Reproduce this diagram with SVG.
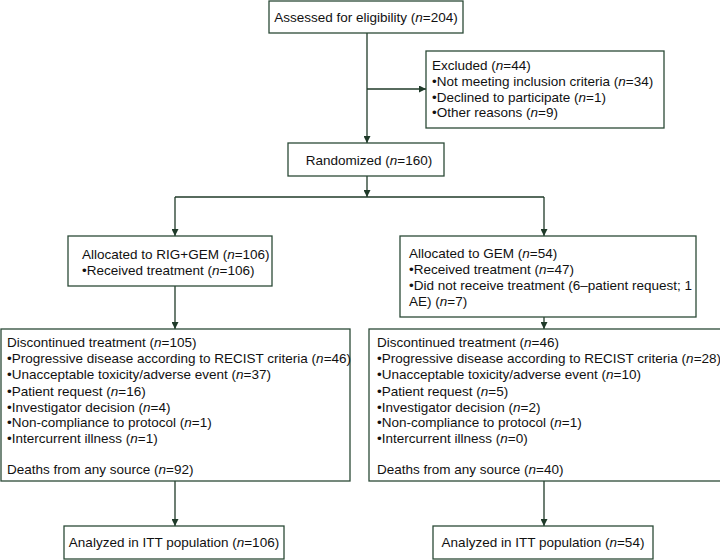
<svg xmlns="http://www.w3.org/2000/svg" width="720" height="560" viewBox="0 0 720 560">
<defs>
<marker id="ah" viewBox="0 0 10 10" refX="10" refY="5" markerWidth="7" markerHeight="7" markerUnits="userSpaceOnUse" orient="auto">
<path d="M0,0 L10,5 L0,10 z" fill="#1f3a29"/>
</marker>
<style>
.box{fill:#fff;stroke:#2b4a37;stroke-width:1.3}
.t{font-family:"Liberation Sans",Arial,sans-serif;font-size:13.5px;fill:#111}
.c{text-anchor:middle}
.ln{fill:none;stroke:#1f3a29;stroke-width:1.3}
.i{font-style:italic}
</style>
</defs>
<rect width="720" height="560" fill="#fff"/>
<g id="connectors">
<path class="ln" d="M367,33 V143" marker-end="url(#ah)"/>
<path class="ln" d="M367,89 H426" marker-end="url(#ah)"/>
<path class="ln" d="M367,176 V197" marker-end="url(#ah)"/>
<path class="ln" d="M175,197 H544"/>
<path class="ln" d="M175,197 V236" marker-end="url(#ah)"/>
<path class="ln" d="M544,197 V236" marker-end="url(#ah)"/>
<path class="ln" d="M175,286 V329" marker-end="url(#ah)"/>
<path class="ln" d="M544,317 V329" marker-end="url(#ah)"/>
<path class="ln" d="M175,481 V526" marker-end="url(#ah)"/>
<path class="ln" d="M544,481 V526" marker-end="url(#ah)"/>
</g>
<g id="assessed">
<rect class="box" x="269" y="1" width="194" height="32"/>
<text class="t c" x="366" y="22">Assessed for eligibility (<tspan class="i">n</tspan>=204)</text>
</g>
<g id="excluded">
<rect class="box" x="426" y="51" width="238" height="77"/>
<text class="t" x="432" y="70">Excluded (<tspan class="i">n</tspan>=44)</text>
<text class="t" x="432" y="86">•Not meeting inclusion criteria (<tspan class="i">n</tspan>=34)</text>
<text class="t" x="432" y="102">•Declined to participate (<tspan class="i">n</tspan>=1)</text>
<text class="t" x="432" y="117">•Other reasons (<tspan class="i">n</tspan>=9)</text>
</g>
<g id="randomized">
<rect class="box" x="288" y="143" width="156" height="33"/>
<text class="t c" x="369" y="165">Randomized (<tspan class="i">n</tspan>=160)</text>
</g>
<g id="alloc-rig">
<rect class="box" x="68" y="236" width="204" height="50"/>
<text class="t" x="82" y="259">Allocated to RIG+GEM (<tspan class="i">n</tspan>=106)</text>
<text class="t" x="82" y="275">•Received treatment (<tspan class="i">n</tspan>=106)</text>
</g>
<g id="alloc-gem">
<rect class="box" x="400" y="236" width="296" height="81"/>
<text class="t" x="409" y="258">Allocated to GEM (<tspan class="i">n</tspan>=54)</text>
<text class="t" x="409" y="274">•Received treatment (<tspan class="i">n</tspan>=47)</text>
<text class="t" x="409" y="290">•Did not receive treatment (6–patient request; 1</text>
<text class="t" x="409" y="306">AE) (<tspan class="i">n</tspan>=7)</text>
</g>
<g id="disc-rig">
<rect class="box" x="1" y="329" width="349" height="152"/>
<text class="t" x="7" y="347">Discontinued treatment (<tspan class="i">n</tspan>=105)</text>
<text class="t" x="7" y="363">•Progressive disease according to RECIST criteria (<tspan class="i">n</tspan>=46)</text>
<text class="t" x="7" y="379">•Unacceptable toxicity/adverse event (<tspan class="i">n</tspan>=37)</text>
<text class="t" x="7" y="396">•Patient request (<tspan class="i">n</tspan>=16)</text>
<text class="t" x="7" y="412">•Investigator decision (<tspan class="i">n</tspan>=4)</text>
<text class="t" x="7" y="427">•Non-compliance to protocol (<tspan class="i">n</tspan>=1)</text>
<text class="t" x="7" y="443">•Intercurrent illness (<tspan class="i">n</tspan>=1)</text>
<text class="t" x="7" y="474">Deaths from any source (<tspan class="i">n</tspan>=92)</text>
</g>
<g id="disc-gem">
<rect class="box" x="369" y="329" width="352" height="152"/>
<text class="t" x="377" y="347">Discontinued treatment (<tspan class="i">n</tspan>=46)</text>
<text class="t" x="377" y="363">•Progressive disease according to RECIST criteria (<tspan class="i">n</tspan>=28)</text>
<text class="t" x="377" y="379">•Unacceptable toxicity/adverse event (<tspan class="i">n</tspan>=10)</text>
<text class="t" x="377" y="396">•Patient request (<tspan class="i">n</tspan>=5)</text>
<text class="t" x="377" y="412">•Investigator decision (<tspan class="i">n</tspan>=2)</text>
<text class="t" x="377" y="427">•Non-compliance to protocol (<tspan class="i">n</tspan>=1)</text>
<text class="t" x="377" y="443">•Intercurrent illness (<tspan class="i">n</tspan>=0)</text>
<text class="t" x="377" y="474">Deaths from any source (<tspan class="i">n</tspan>=40)</text>
</g>
<g id="itt-rig">
<rect class="box" x="64" y="526" width="220" height="33"/>
<text class="t c" x="174" y="547">Analyzed in ITT population (<tspan class="i">n</tspan>=106)</text>
</g>
<g id="itt-gem">
<rect class="box" x="433" y="526" width="220" height="33"/>
<text class="t c" x="543" y="547">Analyzed in ITT population (<tspan class="i">n</tspan>=54)</text>
</g>
</svg>
